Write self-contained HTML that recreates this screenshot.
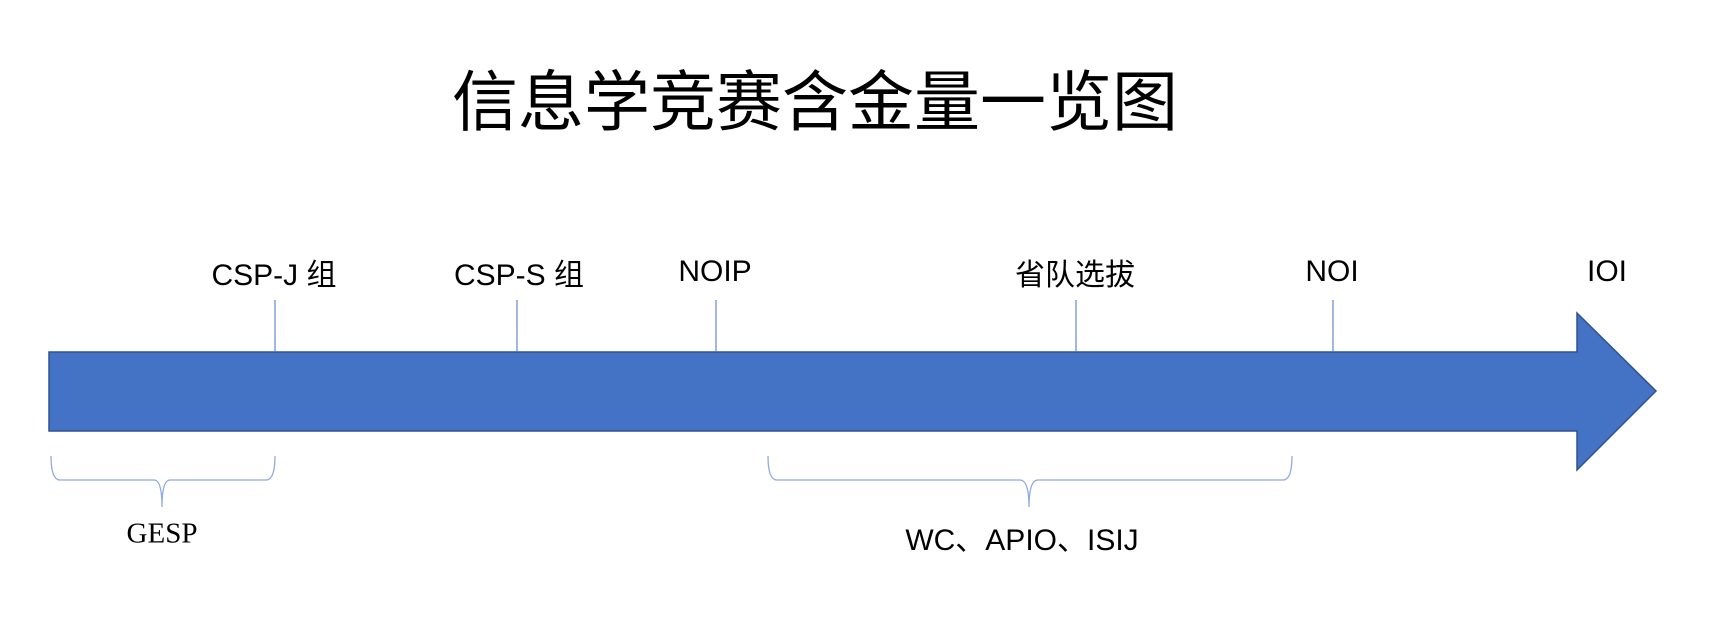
<!DOCTYPE html>
<html><head><meta charset="utf-8"><style>
body{margin:0;background:#fff;}
.w{position:relative;width:1709px;height:621px;overflow:hidden;font-family:"Liberation Sans","Noto Sans CJK SC",sans-serif;}
.t{position:absolute;white-space:nowrap;transform:translate(-50%,-50%);color:#000;}
</style></head><body><div class="w">
<div class="t" style="left:815px;top:97px;font-size:66px;">信息学竞赛含金量一览图</div>
<svg width="1709" height="621" style="position:absolute;left:0;top:0">
<polygon points="49,352 1577,352 1577,313 1656,391 1577,470 1577,431 49,431" fill="#4472c4" stroke="#2f528f" stroke-width="1.5"/>
<g stroke="#4472c4" stroke-width="1">
<line x1="275" y1="300" x2="275" y2="352"/>
<line x1="517" y1="300" x2="517" y2="352"/>
<line x1="716" y1="300" x2="716" y2="352"/>
<line x1="1076" y1="300" x2="1076" y2="352"/>
<line x1="1333" y1="300" x2="1333" y2="352"/>
</g>
<g fill="none" stroke="#8faadc" stroke-width="1.3">
<path d="M51,456 Q51,480 60,480 L154,480 Q162,480 162,507 Q162,480 170,480 L266,480 Q275,480 275,456"/>
<path d="M768,456 Q768,480 777,480 L1020,480 Q1029,480 1029,507 Q1029,480 1038,480 L1283,480 Q1292,480 1292,456"/>
</g>
</svg>
<div class="t" style="left:274px;top:272px;font-size:30px;">CSP-J 组</div>
<div class="t" style="left:519px;top:272px;font-size:30px;">CSP-S 组</div>
<div class="t" style="left:715px;top:272px;font-size:30px;">NOIP</div>
<div class="t" style="left:1075px;top:272px;font-size:30px;">省队选拔</div>
<div class="t" style="left:1332px;top:272px;font-size:30px;">NOI</div>
<div class="t" style="left:1607px;top:272px;font-size:30px;">IOI</div>
<div class="t" style="left:162px;top:534px;font-size:29px;font-family:'Liberation Serif',serif;">GESP</div>
<div class="t" style="left:1022px;top:537px;font-size:30px;">WC、APIO、ISIJ</div>
</div></body></html>
